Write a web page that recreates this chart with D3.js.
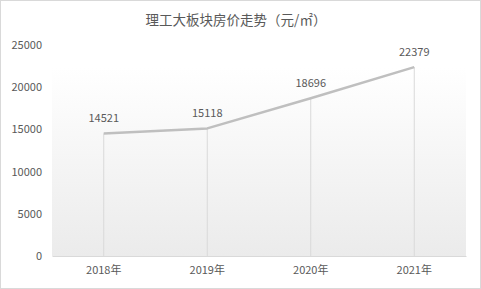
<!DOCTYPE html>
<html>
<head>
<meta charset="utf-8">
<style>
  body { margin: 0; background: #fff; }
  svg { font-family: "Noto Sans CJK SC", "Noto Sans", sans-serif; display: block; }
</style>
</head>
<body>
<svg width="481" height="289"></svg>
<script src="https://cdn.jsdelivr.net/npm/d3@7"></script>
<script>
var years = ["2018年", "2019年", "2020年", "2021年"];
var prices = [14521, 15118, 18696, 22379];
var yTicks = [0, 5000, 10000, 15000, 20000, 25000];

var svg = d3.select("svg"),
    width = +svg.attr("width"),
    height = +svg.attr("height");

var plot = { left: 52, right: 466, top: 45, bottom: 256 };

var x = d3.scaleBand().domain(years).range([plot.left, plot.right]);
var y = d3.scaleLinear().domain([0, 25000]).range([plot.bottom, plot.top]);
var cx = function(d) { return x(d) + x.bandwidth() / 2; };

// outer border
svg.append("rect")
    .attr("x", 0.5).attr("y", 0.5)
    .attr("width", width - 1).attr("height", height - 1)
    .attr("fill", "#fff").attr("stroke", "#d9d9d9");

// plot background gradient
var grad = svg.append("defs").append("linearGradient")
    .attr("id", "bg").attr("x1", 0).attr("y1", 0).attr("x2", 0).attr("y2", 1);
grad.append("stop").attr("offset", "0%").attr("stop-color", "#ffffff");
grad.append("stop").attr("offset", "100%").attr("stop-color", "#ebebeb");

svg.append("rect")
    .attr("x", plot.left).attr("y", 68)
    .attr("width", plot.right - plot.left).attr("height", plot.bottom - 68)
    .attr("fill", "url(#bg)");

// title
svg.append("text")
    .attr("x", 236).attr("y", 25)
    .attr("text-anchor", "middle")
    .attr("font-size", 13.5)
    .attr("fill", "#595959")
    .text("理工大板块房价走势（元/㎡）");

// y axis labels
svg.append("g").selectAll("text")
  .data(yTicks)
  .enter().append("text")
    .attr("x", 42)
    .attr("y", function(d) { return y(d) + 4; })
    .attr("text-anchor", "end")
    .attr("font-size", 11)
    .attr("fill", "#595959")
    .text(function(d) { return d; });

// x axis
var xAxis = svg.append("g")
    .attr("transform", "translate(0," + plot.bottom + ")")
    .call(d3.axisBottom(x).tickSize(0).tickPadding(10));
xAxis.select(".domain").attr("stroke", "#d9d9d9");
xAxis.selectAll("text")
    .attr("font-size", 11)
    .attr("fill", "#595959")
    .attr("font-family", "Noto Sans CJK SC");

// drop lines
svg.append("g").selectAll("line")
  .data(prices)
  .enter().append("line")
    .attr("x1", function(d, i) { return cx(years[i]); })
    .attr("x2", function(d, i) { return cx(years[i]); })
    .attr("y1", function(d) { return y(d); })
    .attr("y2", plot.bottom)
    .attr("stroke", "#d9d9d9")
    .attr("stroke-width", 1);

// price line
var line = d3.line()
    .x(function(d, i) { return cx(years[i]); })
    .y(function(d) { return y(d); });

svg.append("path")
    .datum(prices)
    .attr("d", line)
    .attr("fill", "none")
    .attr("stroke", "#bfbfbf")
    .attr("stroke-width", 2.5)
    .attr("stroke-linejoin", "round");

// data labels
svg.append("g").selectAll("text")
  .data(prices)
  .enter().append("text")
    .attr("x", function(d, i) { return cx(years[i]); })
    .attr("y", function(d) { return y(d) - 11; })
    .attr("text-anchor", "middle")
    .attr("font-size", 11)
    .attr("fill", "#595959")
    .text(function(d) { return d; });
</script>
</body>
</html>
